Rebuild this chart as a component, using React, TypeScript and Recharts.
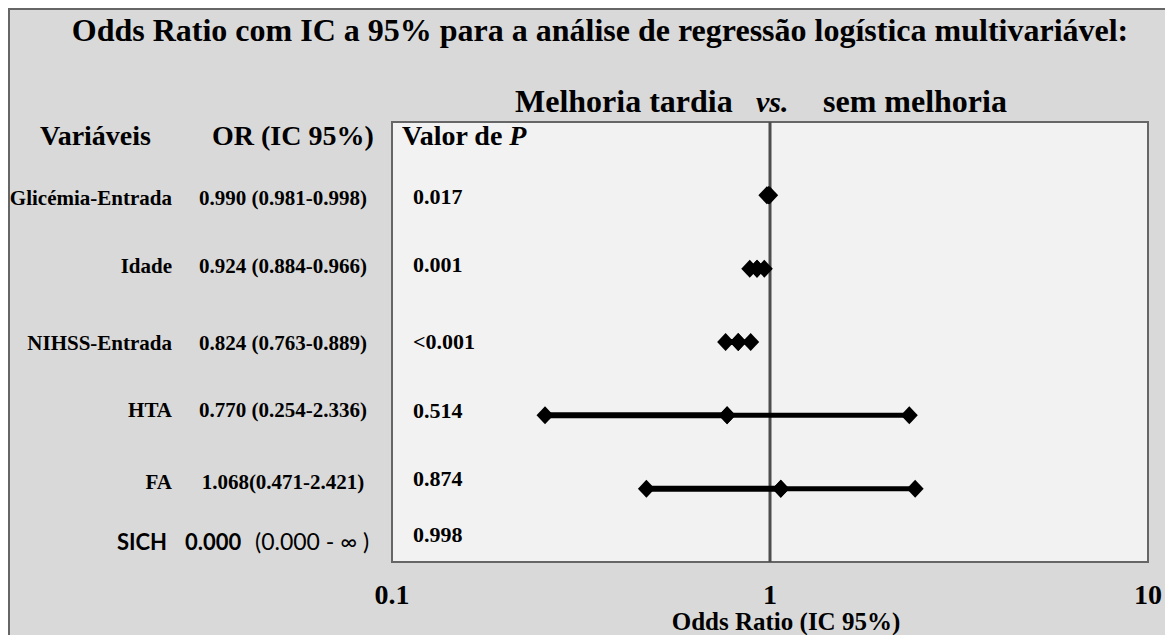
import { ComposedChart, Scatter, XAxis, YAxis, ReferenceArea, ReferenceLine } from "recharts";

// rows, top to bottom
const variables = ["Glicémia-Entrada", "Idade", "NIHSS-Entrada", "HTA", "FA", "SICH"];
const orLabels = ["0.990 (0.981-0.998)", "0.924 (0.884-0.966)", "0.824 (0.763-0.889)", "0.770 (0.254-2.336)", "1.068(0.471-2.421)"];
const pValues = ["0.017", "0.001", "<0.001", "0.514", "0.874", "0.998"];

// plotted odds ratios (SICH = 0.000, cannot go on a log axis)
const orValues = [0.99, 0.924, 0.824, 0.77, 1.068];
const ciLow = [0.981, 0.884, 0.763, 0.254, 0.471];
const ciHigh = [0.998, 0.966, 0.889, 2.336, 2.421];

const xTicks = [0.1, 1, 10];

// text baselines for the row labels (hand placed, like the original text boxes)
const labelBaseline = [205, 273, 350, 417, 489, 550];
const pBaseline = [204, 272, 349, 418, 486, 542];

const serif = "'Liberation Serif', 'Times New Roman', serif";
const sans = "Lato, 'Open Sans', sans-serif";

const Diamond = (props: any) => {
  const { cx, cy } = props;
  if (cx == null || cy == null) return null;
  return <polygon points={`${cx},${cy - 9} ${cx + 8.5},${cy} ${cx},${cy + 9} ${cx - 8.5},${cy}`} fill="#000" />;
};

const XTick = (props: any) => {
  const { x, y, payload } = props;
  return (
    <text x={x} y={y + 42} textAnchor="middle" fontFamily={serif} fontWeight="bold" fontSize={28} fill="#000">
      {payload.value}
    </text>
  );
};

export default function App() {
  const lowSegs = orValues.map((v, i) => [
    { x: ciLow[i], y: i + 1 },
    { x: v, y: i + 1 },
  ]);
  const highSegs = orValues.map((v, i) => [
    { x: v, y: i + 1 },
    { x: ciHigh[i], y: i + 1 },
  ]);

  return (
    <div style={{ position: "fixed", left: 0, top: 0, width: 1165, height: 635, overflow: "hidden", background: "#fff" }}>
      <div
        style={{
          position: "absolute",
          left: 8,
          top: 8,
          width: 1157,
          height: 627,
          boxSizing: "border-box",
          background: "#d9d9d9",
          borderLeft: "2px solid #666",
          borderTop: "2px solid #666",
        }}
      />
      <div style={{ position: "absolute", left: 0, top: 0 }}>
        <ComposedChart width={1165} height={635} margin={{ top: 122, right: 17, bottom: 13, left: 392 }}>
          <XAxis
            dataKey="x"
            type="number"
            scale="log"
            domain={[0.1, 10]}
            ticks={xTicks}
            allowDataOverflow
            axisLine={false}
            tickLine={false}
            tickSize={0}
            tickMargin={0}
            height={60}
            tick={<XTick />}
          />
          <YAxis dataKey="y" type="number" domain={[0, 6]} reversed hide width={0} />
          <ReferenceArea x1={0.1} x2={10} y1={0} y2={6} fill="#f2f2f2" fillOpacity={1} stroke="#666" strokeWidth={2} />
          {lowSegs.map((d, i) => (
            <Scatter
              key={"lo" + i}
              data={d}
              line={{ stroke: "#000", strokeWidth: 6 }}
              shape={<Diamond />}
              isAnimationActive={false}
            />
          ))}
          {highSegs.map((d, i) => (
            <Scatter
              key={"hi" + i}
              data={d}
              line={{ stroke: "#000", strokeWidth: 5 }}
              shape={<Diamond />}
              isAnimationActive={false}
            />
          ))}
          <ReferenceLine x={1} stroke="#4d4d4d" strokeWidth={3} />
        </ComposedChart>
      </div>
      <svg width={1165} height={635} style={{ position: "absolute", left: 0, top: 0, pointerEvents: "none" }}>
        <g fontFamily={serif} fontWeight="bold" fill="#000">
          <text x={600} y={41} textAnchor="middle" fontSize={32}>
            Odds Ratio com IC a 95% para a análise de regressão logística multivariável:
          </text>
          <text x={515} y={112} fontSize={32}>Melhoria tardia</text>
          <text x={756} y={112} fontSize={30} fontStyle="italic">vs.</text>
          <text x={823} y={112} fontSize={32}>sem melhoria</text>
          <text x={40} y={145} fontSize={28}>Variáveis</text>
          <text x={212} y={145} fontSize={28}>OR (IC 95%)</text>
          <text x={402} y={145} fontSize={28}>
            Valor de <tspan fontStyle="italic">P</tspan>
          </text>
          {variables.slice(0, 5).map((v, i) => (
            <text key={v} x={172} y={labelBaseline[i]} textAnchor="end" fontSize={21}>
              {v}
            </text>
          ))}
          {orLabels.map((v, i) => (
            <text key={v} x={283} y={labelBaseline[i]} textAnchor="middle" fontSize={21}>
              {v}
            </text>
          ))}
          {pValues.map((v, i) => (
            <text key={i} x={413} y={pBaseline[i]} fontSize={22}>
              {v}
            </text>
          ))}
          <text x={786} y={630} textAnchor="middle" fontSize={25}>
            Odds Ratio (IC 95%)
          </text>
        </g>
        <g fontFamily={sans} fill="#000">
          <text x={167} y={labelBaseline[5]} textAnchor="end" fontWeight="bold" fontSize={22}>
            {variables[5]}
          </text>
          <text x={185} y={labelBaseline[5]} fontWeight="bold" fontSize={22}>0.000</text>
          <text x={255} y={labelBaseline[5]} fontSize={23}>(0.000 - ∞ )</text>
        </g>
      </svg>
    </div>
  );
}
